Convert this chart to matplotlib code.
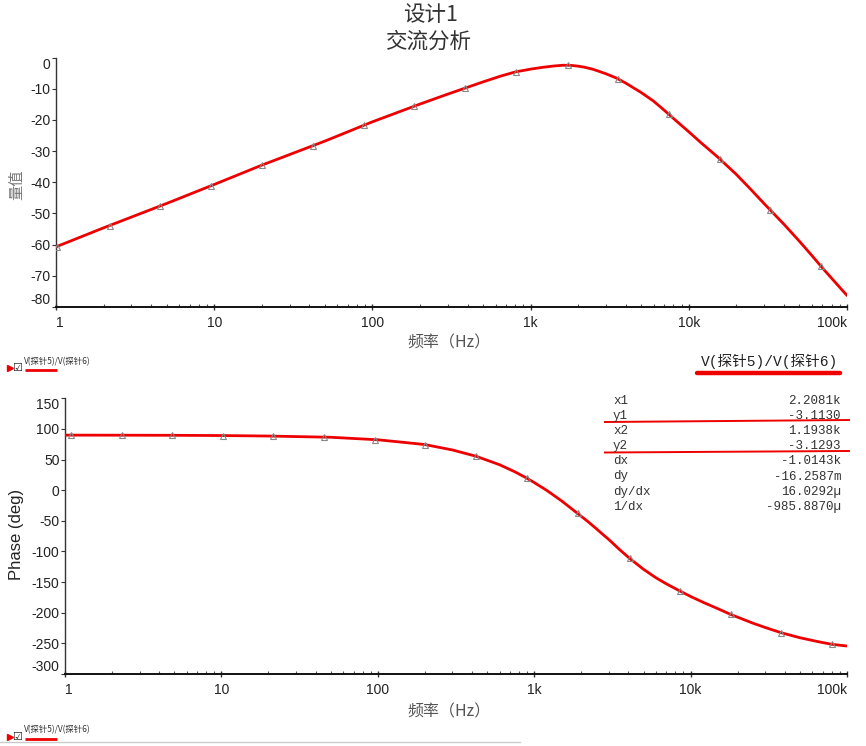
import matplotlib
matplotlib.use("Agg")
import matplotlib.pyplot as plt
from matplotlib.lines import Line2D
from matplotlib.ticker import LogLocator, NullFormatter

plt.rcParams['font.family'] = ['Liberation Sans', 'Noto Sans CJK SC', 'DejaVu Sans']

# ---------------- data ----------------
mag_freq = [1, 2, 5, 10, 20, 50, 100, 200, 300, 500, 650, 800, 1000, 1200, 1400,
            1600, 1800, 2000, 2200, 2500, 3000, 3500, 4000, 5000, 6000, 7000, 8500,
            10000, 12000, 15000, 20000, 25000, 30000, 40000, 50000, 60000, 70000,
            85000, 100000]
mag_db = [-60.7, -54.6, -46.8, -40.7, -34.5, -26.8, -20.6, -14.9, -11.7, -7.8, -5.9,
          -4.6, -3.7, -3.1, -2.7, -2.45, -2.5, -2.75, -3.1, -3.8, -5.2, -6.6, -8.2,
          -11.2, -14.0, -16.9, -20.7, -23.8, -27.4, -31.6, -37.5, -42.6, -46.9,
          -53.5, -58.9, -63.5, -67.5, -72.3, -76.3]
mag_mark_freq = [1.02, 2.18, 4.54, 9.53, 20.0, 41.9, 87.9, 183, 387, 811, 1715,
                 3566, 7480, 15700, 32700, 68500]
mag_mark_db = [-60.6, -53.9, -47.6, -41.1, -34.5, -28.3, -21.7, -15.6, -9.6, -4.5,
               -2.4, -6.8, -18.2, -32.5, -48.8, -67.0]

ph_freq = [1, 2, 5, 10, 20, 50, 100, 150, 200, 300, 425, 600, 750, 890, 1000, 1200,
           1500, 1870, 2200, 2500, 2800, 3000, 3500, 4080, 5000, 6000, 7000, 8550,
           10000, 12000, 15000, 18000, 25000, 30000, 37900, 50000, 65000, 80100, 100000]
ph_deg = [89.9, 89.8, 89.6, 89.2, 88.4, 86.4, 82.3, 77.8, 74.5, 65.7, 55.4, 41.6,
          30.2, 20.1, 12.5, -0.1, -17.6, -36.8, -51.0, -63.0, -74.0, -80.5, -96.5,
          -111.4, -129.1, -142.9, -152.9, -164.6, -173.4, -182.9, -193.6, -202.7,
          -217.0, -224.1, -232.6, -240.8, -247.1, -251.6, -254.3]
ph_mark_freq = [1.09, 2.3, 4.8, 10.2, 21.5, 45, 95.6, 200, 425, 900, 1900, 4080,
                8550, 18000, 37900, 80100]
ph_mark_deg = [89.9, 89.8, 89.6, 89.2, 88.3, 86.6, 82.4, 74.5, 55.4, 20.1, -36.9,
               -111.4, -164.6, -202.7, -232.6, -251.6]

x_ticks = [1, 10, 100, 1000, 10000, 100000]
x_labels = ['1', '10', '100', '1k', '10k', '100k']
mag_ticks = [0, -10, -20, -30, -40, -50, -60, -70, -80]
ph_ticks = [150, 100, 50, 0, -50, -100, -150, -200, -250, -300]

cursor_names = ['x1', 'y1', 'x2', 'y2', 'dx', 'dy', 'dy/dx', '1/dx']
cursor_values = ['2.2081k', '-3.1130', '1.1938k', '-3.1293', '-1.0143k',
                 '-16.2587m', '16.0292\u00b5', '-985.8870\u00b5']
trace_name = 'V(探针5)/V(探针6)'

W, H = 866, 746
fig = plt.figure(figsize=(W / 100, H / 100), dpi=100)


def fx(px):
    return px / W


def fy(py):
    return 1 - py / H


RED = '#ee0000'
TXT = '#222222'
GRAY = '#777777'


def style_axes(ax, yticks, ylim):
    ax.set_xscale('log')
    ax.set_xlim(1, 1e5)
    ax.set_ylim(*ylim)
    for s in ('top', 'right'):
        ax.spines[s].set_visible(False)
    ax.spines['left'].set_color('#333333')
    ax.spines['left'].set_linewidth(1.0)
    ax.spines['bottom'].set_color('#111111')
    ax.spines['bottom'].set_linewidth(1.4)
    ax.set_xticks(x_ticks, x_labels)
    ax.xaxis.set_minor_locator(LogLocator(base=10, subs=range(2, 10), numticks=20))
    ax.xaxis.set_minor_formatter(NullFormatter())
    ax.tick_params(axis='x', which='major', direction='inout', length=5, width=1,
                   pad=4, labelsize=10, labelcolor=TXT, color='#333333')
    ax.tick_params(axis='x', which='minor', direction='in', length=2.5, width=0.8,
                   color='#555555')
    ax.set_yticks(yticks, [str(t) for t in yticks])
    ax.tick_params(axis='y', direction='out', length=3, width=0.8, pad=1,
                   labelsize=10, labelcolor=TXT, color='#333333')
    xt = ax.get_xticklabels()
    xt[0].set_ha('left')
    xt[-1].set_ha('right')
    yt = ax.yaxis.get_major_ticks()
    yt[0].label1.set_va('top')
    yt[-1].label1.set_va('bottom')


# ---------------- magnitude plot ----------------
ax1 = fig.add_axes([fx(56), fy(307), fx(847 - 56), (307 - 57.6) / H])
ax1.plot(mag_freq, mag_db, color=RED, lw=2.0, solid_capstyle='round',
         solid_joinstyle='round', zorder=3)
ax1.plot(mag_mark_freq, mag_mark_db, ls='none', marker='^', ms=4, mfc='none',
         mec='#888888', mew=0.8, zorder=4)
style_axes(ax1, mag_ticks, (-80, 0))

# ---------------- phase plot ----------------
ax2 = fig.add_axes([fx(65), fy(674), fx(847 - 65), (674 - 398.3) / H])
ax2.plot(ph_freq, ph_deg, color=RED, lw=2.0, solid_capstyle='round',
         solid_joinstyle='round', zorder=3)
ax2.plot(ph_mark_freq, ph_mark_deg, ls='none', marker='^', ms=4, mfc='none',
         mec='#888888', mew=0.8, zorder=4)
style_axes(ax2, ph_ticks, (-300, 150))

# ---------------- titles and labels ----------------
cjk = ['Noto Sans CJK SC', 'DejaVu Sans']
fig.text(fx(431), fy(15), '设计1', ha='center', va='center', fontsize=15.5,
         color='#333333', family=cjk)
fig.text(fx(428), fy(42), '交流分析', ha='center', va='center', fontsize=15.5,
         color='#333333', family=cjk)
fig.text(fx(17), fy(185), '量值', ha='center', va='center', rotation=90,
         fontsize=11, color=GRAY, family=cjk)
fig.text(fx(17), fy(534), 'Phase (deg)', ha='center', va='center', rotation=90,
         fontsize=12, color=TXT, family=['Liberation Sans', 'DejaVu Sans'])
for yy in (343, 712):
    fig.text(fx(449), fy(yy), '频率（Hz）', ha='center', va='center',
             fontsize=11.5, color='#555555', family=cjk)

# ---------------- bottom-left legend rows ----------------
mono_cjk = ['Liberation Mono', 'Noto Sans CJK SC', 'DejaVu Sans']
for (ty, my) in ((362, 368), (730, 737)):
    fig.add_artist(Line2D([fx(10)], [fy(my)], marker='>', ms=5, color=RED,
                          mec=RED, ls='none'))
    fig.text(fx(17.5), fy(my), '☑', ha='center', va='center', fontsize=8,
             color='#222222', family=['DejaVu Sans'])
    fig.text(fx(24), fy(ty), trace_name, ha='left', va='center', fontsize=6,
             color='#333333', family=cjk)
    fig.add_artist(Line2D([fx(25), fx(57)], [fy(ty + 8.5), fy(ty + 8.5)],
                          color=RED, lw=2.0, solid_capstyle='butt'))
fig.add_artist(Line2D([0, fx(520)], [fy(742), fy(742)], color='#cccccc', lw=1.0))

# ---------------- cursor table ----------------
fig.text(fx(838), fy(361), trace_name, ha='right', va='center', fontsize=10.5,
         color='#222222', family=mono_cjk)
fig.add_artist(Line2D([fx(697), fx(840)], [fy(373), fy(373)], color=RED, lw=3.2,
                      solid_capstyle='round'))
row_y0, row_dy = 400.5, 15.2
for i, (nm, val) in enumerate(zip(cursor_names, cursor_values)):
    yy = row_y0 + i * row_dy
    fig.text(fx(613), fy(yy), nm, ha='left', va='center', fontsize=9,
             color='#333333', family=mono_cjk)
    fig.text(fx(841), fy(yy), val, ha='right', va='center', fontsize=9,
             color='#333333', family=['Liberation Mono', 'DejaVu Sans Mono'])
fig.add_artist(Line2D([fx(605), fx(849)], [fy(422), fy(420)], color=RED, lw=1.4))
fig.add_artist(Line2D([fx(605), fx(849)], [fy(452.5), fy(451)], color=RED, lw=1.4))

fig.savefig('out.png', dpi=100)
